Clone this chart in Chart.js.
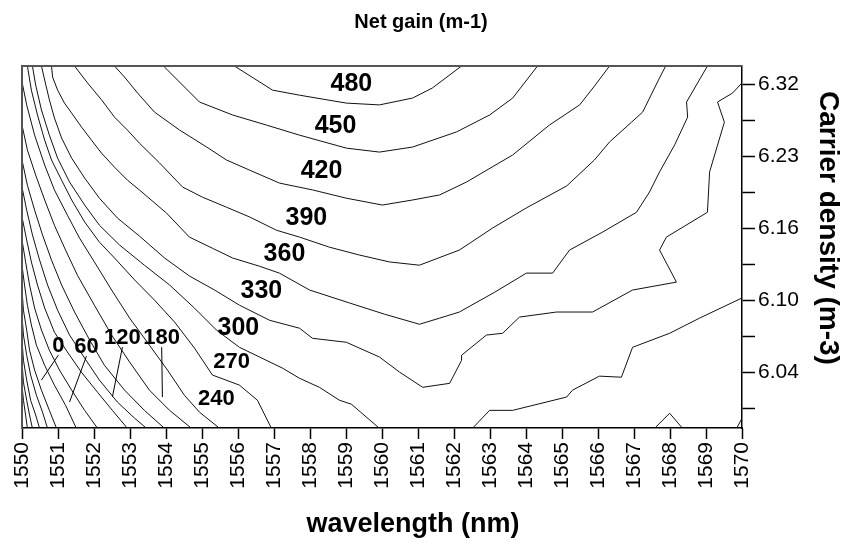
<!DOCTYPE html>
<html>
<head>
<meta charset="utf-8">
<title>Net gain</title>
<script src="https://cdn.jsdelivr.net/npm/chart.js@4.4.0/dist/chart.umd.min.js"></script>
<style>
  html, body { margin: 0; padding: 0; background: #fff; }
</style>
</head>
<body>
<canvas id="gainChart" width="847" height="544"></canvas>
<script>
// Axis ticks
var wavelengthTicks = [1550, 1551, 1552, 1553, 1554, 1555, 1556, 1557, 1558, 1559, 1560,
                       1561, 1562, 1563, 1564, 1565, 1566, 1567, 1568, 1569, 1570];
// carrier density rows 0..9 (only every other one is labelled)
var densityLabels = ['', '6.04', '', '6.10', '', '6.16', '', '6.23', '', '6.32'];

// Contour lines of the net gain, [wavelength (nm), density row]
var gain480 = [[1555.90, 9.50], [1556.96, 8.83], [1557.71, 8.69], [1559.01, 8.47], [1559.93, 8.42],
               [1560.85, 8.61], [1561.40, 8.89], [1562.21, 9.50]];
var gain450 = [[1553.93, 9.50], [1554.93, 8.50], [1555.85, 8.14], [1556.79, 7.86], [1557.71, 7.58],
               [1559.01, 7.22], [1559.93, 7.11], [1560.85, 7.25], [1562.07, 7.67], [1562.99, 8.14],
               [1563.63, 8.61], [1564.32, 9.50]];
var gain420 = [[1552.57, 9.50], [1552.85, 9.19], [1553.21, 8.75], [1553.68, 8.22], [1554.38, 7.72],
               [1555.13, 7.25], [1555.68, 6.89], [1556.32, 6.61], [1557.15, 6.25], [1558.07, 6.06],
               [1559.01, 5.83], [1560.01, 5.64], [1560.85, 5.78], [1561.60, 5.92], [1562.35, 6.28],
               [1563.63, 7.03], [1564.65, 7.86], [1565.49, 8.42], [1565.90, 8.94], [1566.32, 9.50]];
var gain390 = [[1551.46, 9.50], [1551.82, 9.03], [1552.21, 8.56], [1552.57, 8.08], [1552.93, 7.72],
               [1553.26, 7.36], [1553.82, 6.81], [1554.46, 6.14], [1555.01, 5.86], [1555.68, 5.58],
               [1556.32, 5.31], [1557.07, 4.94], [1557.71, 4.75], [1558.54, 4.47], [1559.38, 4.25],
               [1560.21, 4.06], [1561.04, 3.97], [1562.15, 4.39], [1563.07, 5.00], [1564.01, 5.56],
               [1565.13, 6.17], [1565.90, 6.89], [1566.32, 7.39], [1566.93, 7.94], [1567.24, 8.22],
               [1567.71, 9.17], [1567.88, 9.50]];
var gain360 = [[1550.82, 9.50], [1550.85, 9.19], [1550.99, 8.83], [1551.18, 8.47], [1551.38, 8.19],
               [1551.65, 7.81], [1551.93, 7.44], [1552.21, 7.08], [1552.57, 6.69], [1552.93, 6.33],
               [1553.26, 6.06], [1554.01, 5.42], [1554.65, 4.75], [1555.29, 4.44], [1555.85, 4.17],
               [1556.60, 3.94], [1557.15, 3.75], [1557.99, 3.28], [1559.10, 2.92], [1560.07, 2.61],
               [1561.04, 2.33], [1561.60, 2.50], [1562.15, 2.67], [1563.13, 3.22], [1564.01, 3.75],
               [1564.74, 3.75], [1565.21, 4.39], [1566.13, 4.89], [1567.07, 5.44], [1567.43, 6.00],
               [1567.71, 6.56], [1568.13, 7.31], [1568.49, 8.08], [1568.46, 8.50], [1569.04, 9.50]];
var gain330 = [[1550.54, 9.50], [1550.63, 9.11], [1550.76, 8.56], [1550.90, 8.06], [1551.10, 7.50],
               [1551.38, 6.94], [1551.74, 6.39], [1552.15, 5.83], [1552.65, 5.28], [1553.26, 4.78],
               [1553.96, 4.17], [1554.65, 3.67], [1555.35, 3.28], [1556.04, 2.86], [1556.88, 2.44],
               [1557.71, 2.22], [1558.07, 1.94], [1559.01, 1.83], [1559.93, 1.42], [1560.49, 1.00],
               [1561.13, 0.58], [1561.88, 0.69], [1562.21, 1.33], [1562.21, 1.47], [1562.90, 2.03],
               [1563.35, 2.08], [1563.82, 2.53], [1564.85, 2.67], [1565.85, 2.67], [1566.96, 3.28],
               [1568.18, 3.50], [1567.71, 4.39], [1567.90, 4.75], [1569.04, 5.44], [1569.10, 6.56],
               [1569.51, 7.94], [1569.32, 8.50], [1569.74, 8.75], [1570.00, 9.03]];
var gain300 = [[1550.29, 9.50], [1550.38, 8.97], [1550.54, 8.28], [1550.76, 7.58], [1550.99, 6.94],
               [1551.32, 6.28], [1551.74, 5.64], [1552.15, 5.08], [1552.71, 4.53], [1553.40, 3.97],
               [1554.10, 3.42], [1554.79, 2.78], [1555.40, 2.17], [1556.04, 1.69], [1556.60, 1.42],
               [1557.24, 1.11], [1557.71, 0.83], [1558.26, 0.58], [1558.82, 0.22], [1559.15, 0.11],
               [1559.93, -0.56]];
var gain300b = [[1562.51, -0.56], [1562.99, -0.06], [1563.63, -0.06], [1565.13, 0.31], [1565.29, 0.50],
                [1566.04, 0.89], [1566.65, 0.86], [1566.96, 1.69], [1567.99, 2.08], [1568.82, 2.50],
                [1570.00, 3.06]];
var gain270 = [[1550.15, 9.50], [1550.26, 8.83], [1550.43, 8.14], [1550.63, 7.44], [1550.82, 6.89],
               [1551.10, 6.33], [1551.38, 5.78], [1551.74, 5.17], [1552.15, 4.61], [1552.57, 4.17],
               [1553.13, 3.56], [1553.68, 3.00], [1554.24, 2.39], [1554.79, 1.67], [1555.29, 0.92],
               [1556.04, 0.64], [1556.54, 0.22], [1556.93, -0.56]];
var gain270b = [[1567.57, -0.56], [1567.99, -0.14], [1568.35, -0.56]];
var gain270c = [[1569.85, -0.56], [1570.00, -0.28]];
var gain240 = [[1550.00, 9.06], [1550.13, 8.42], [1550.35, 7.58], [1550.63, 6.75], [1550.90, 6.06],
               [1551.26, 5.36], [1551.60, 4.72], [1552.01, 4.06], [1552.49, 3.28], [1552.99, 2.50],
               [1553.54, 1.75], [1554.04, 1.06], [1554.51, 0.36], [1554.93, -0.11], [1555.49, -0.56]];
var gain210 = [[1550.00, 7.86], [1550.15, 7.17], [1550.38, 6.47], [1550.63, 5.78], [1550.90, 5.08],
               [1551.21, 4.39], [1551.54, 3.69], [1552.01, 2.86], [1552.49, 2.03], [1552.99, 1.28],
               [1553.54, 0.50], [1554.10, -0.06], [1554.71, -0.56]];
var gain180 = [[1550.00, 6.89], [1550.15, 6.19], [1550.35, 5.50], [1550.57, 4.81], [1550.82, 4.11],
               [1551.10, 3.42], [1551.46, 2.67], [1551.88, 1.89], [1552.29, 1.19], [1552.85, 0.50],
               [1553.40, -0.06], [1553.96, -0.56]];
var gain150 = [[1550.00, 6.14], [1550.13, 5.50], [1550.29, 4.81], [1550.49, 4.11], [1550.71, 3.42],
               [1550.99, 2.72], [1551.32, 2.03], [1551.74, 1.39], [1552.15, 0.78], [1552.65, 0.17],
               [1553.13, -0.28], [1553.46, -0.56]];
var gain120 = [[1550.00, 5.31], [1550.13, 4.67], [1550.26, 4.06], [1550.43, 3.42], [1550.63, 2.78],
               [1550.90, 2.11], [1551.26, 1.56], [1551.65, 1.00], [1552.10, 0.44], [1552.51, -0.06],
               [1552.93, -0.56]];
var gain90 = [[1550.00, 4.67], [1550.10, 4.06], [1550.21, 3.42], [1550.35, 2.78], [1550.54, 2.17],
              [1550.76, 1.61], [1551.04, 1.06], [1551.38, 0.50], [1551.74, -0.06], [1552.10, -0.56]];
var gain60 = [[1550.00, 3.97], [1550.07, 3.42], [1550.15, 2.86], [1550.26, 2.31], [1550.40, 1.75],
              [1550.63, 1.19], [1550.90, 0.64], [1551.21, 0.08], [1551.51, -0.56]];
var gain30 = [[1550.00, 3.28], [1550.04, 2.72], [1550.13, 2.17], [1550.21, 1.61], [1550.35, 1.06],
              [1550.54, 0.50], [1550.76, -0.06], [1550.96, -0.56]];
var gain0 = [[1550.00, 2.58], [1550.04, 2.03], [1550.13, 1.47], [1550.24, 0.92], [1550.40, 0.36],
             [1550.57, -0.11], [1550.71, -0.56]];
var gainM30 = [[1550.00, 1.89], [1550.04, 1.33], [1550.13, 0.78], [1550.24, 0.22], [1550.38, -0.19],
               [1550.49, -0.56]];
var gainM60 = [[1550.00, 1.28], [1550.04, 0.72], [1550.13, 0.22], [1550.21, -0.19], [1550.29, -0.56]];
var gainM90 = [[1550.00, 0.64], [1550.04, 0.22], [1550.10, -0.19], [1550.15, -0.56]];

var contourLines = [gain480, gain450, gain420, gain390, gain360, gain330, gain300, gain300b,
                    gain270, gain270b, gain270c, gain240, gain210, gain180, gain150, gain120,
                    gain90, gain60, gain30, gain0, gainM30, gainM60, gainM90];

// Level labels: text, wavelength, row, and optional leader end
var levelLabels = [
  ['480', 1559.15, 9.00], ['450', 1558.71, 7.83], ['420', 1558.32, 6.58],
  ['390', 1557.90, 5.28], ['360', 1557.29, 4.28], ['330', 1556.65, 3.25],
  ['300', 1556.01, 2.22], ['270', 1555.82, 1.28], ['240', 1555.40, 0.25],
  ['0', 1551.01, 1.72, 1550.54, 0.78], ['60', 1551.79, 1.69, 1551.32, 0.17],
  ['120', 1552.79, 1.94, 1552.51, 0.31], ['180', 1553.88, 1.94, 1553.90, 0.31]
];

var FONT = "'Liberation Sans', Arial, sans-serif";

var datasets = contourLines.map(function(line) {
  return {
    data: line.map(function(p) { return { x: p[0], y: p[1] }; }),
    showLine: true,
    borderColor: '#111',
    borderWidth: 1,
    pointRadius: 0,
    fill: false,
    tension: 0
  };
});

// frame, level labels and titles
var decorations = {
  id: 'decorations',
  afterDatasetsDraw: function(chart) {
    var c = chart.ctx, a = chart.chartArea;
    var xs = chart.scales.x, ys = chart.scales.y;
    c.save();
    c.strokeStyle = '#555';
    c.lineWidth = 2;
    c.beginPath();
    c.moveTo(a.left, a.bottom);
    c.lineTo(a.left, a.top);
    c.lineTo(a.right, a.top);
    c.stroke();

    c.fillStyle = '#000';
    c.strokeStyle = '#000';
    c.lineWidth = 1;
    c.textAlign = 'center';
    c.textBaseline = 'middle';
    levelLabels.forEach(function(l) {
      var size = Number(l[0]) >= 300 ? 25 : 22;
      c.font = 'bold ' + size + 'px ' + FONT;
      var px = xs.getPixelForValue(l[1]);
      var py = ys.getPixelForValue(l[2]);
      c.fillText(l[0], px, py);
      if (l.length > 3) {
        c.beginPath();
        c.moveTo(px, py + size * 0.4);
        c.lineTo(xs.getPixelForValue(l[3]), ys.getPixelForValue(l[4]));
        c.stroke();
      }
    });

    c.font = 'bold 20px ' + FONT;
    c.fillText('Net gain (m-1)', 421, 22);
    c.font = 'bold 27px ' + FONT;
    c.fillText('wavelength (nm)', 413, 525);
    c.translate(828, 228);
    c.rotate(Math.PI / 2);
    c.font = 'bold 28px ' + FONT;
    c.fillText('Carrier density (m-3)', 0, 0);
    c.restore();
  }
};

var ctx = document.getElementById('gainChart').getContext('2d');
var chart = new Chart(ctx, {
  type: 'scatter',
  data: { datasets: datasets },
  options: {
    responsive: false,
    animation: false,
    layout: { padding: { left: 22, top: 66, right: 0, bottom: 0 } },
    plugins: {
      legend: { display: false },
      tooltip: { enabled: false },
      title: { display: false }
    },
    scales: {
      x: {
        type: 'linear',
        position: 'bottom',
        min: 1550,
        max: 1570,
        afterBuildTicks: function(scale) {
          scale.ticks = wavelengthTicks.map(function(v) { return { value: v }; });
        },
        afterFit: function(scale) { scale.height = 116; },
        ticks: {
          autoSkip: false,
          maxRotation: 90,
          minRotation: 90,
          padding: 3,
          color: '#000',
          font: { family: FONT, size: 21 },
          callback: function(value) { return String(value); }
        },
        grid: { drawOnChartArea: false, tickLength: 11, tickColor: '#000', tickWidth: 1.5 },
        border: { display: true, color: '#000', width: 1.5 }
      },
      y: {
        type: 'linear',
        position: 'right',
        min: -0.55,
        max: 9.5,
        afterBuildTicks: function(scale) {
          scale.ticks = densityLabels.map(function(t, i) { return { value: i }; });
        },
        afterFit: function(scale) { scale.width = 105; },
        ticks: {
          autoSkip: false,
          padding: 3,
          color: '#000',
          font: { family: FONT, size: 21 },
          callback: function(value, index) { return densityLabels[index]; }
        },
        grid: { drawOnChartArea: false, tickLength: 13, tickColor: '#000', tickWidth: 1.5 },
        border: { display: true, color: '#000', width: 1.5 }
      }
    }
  },
  plugins: [decorations]
});
</script>
</body>
</html>
